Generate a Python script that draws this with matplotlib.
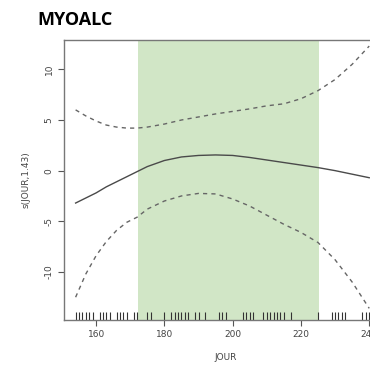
import numpy as np
import matplotlib
matplotlib.use("Agg")
import matplotlib.pyplot as plt
import matplotlib.transforms as mtransforms

# valeurs
jour = [154, 157, 160, 163, 166, 169, 172, 175, 180, 185, 190, 195,
        200, 205, 210, 215, 220, 225, 230, 235, 240]
lisse = [-3.2, -2.7, -2.2, -1.6, -1.1, -0.6, -0.1, 0.4, 1.0, 1.35, 1.5, 1.55,
         1.5, 1.3, 1.05, 0.8, 0.55, 0.3, 0.0, -0.35, -0.7]
borne_sup = [6.0, 5.4, 4.9, 4.5, 4.3, 4.2, 4.2, 4.3, 4.6, 5.0, 5.3, 5.6,
             5.85, 6.1, 6.4, 6.6, 7.1, 7.9, 9.0, 10.5, 12.3]
borne_inf = [-12.5, -10.2, -8.4, -7.0, -5.9, -5.1, -4.6, -3.8, -3.0, -2.5, -2.25, -2.3,
             -2.8, -3.5, -4.4, -5.3, -6.1, -7.1, -8.8, -11.0, -13.6]

# observations (rug)
rug_jours = [154, 155, 156, 157, 158, 159, 161, 162, 163, 164, 166, 167, 168, 169, 171, 172,
             175, 176, 180, 182, 183, 184, 185, 186, 187, 189, 190, 192,
             196, 197, 198, 203, 204, 205, 206,
             209, 210, 211, 212, 213, 214, 215, 217, 225,
             229, 230, 231, 232, 233, 238, 239, 240]

periode = (172.2, 225.2)
xticks = [160, 180, 200, 220, 240]
yticks = [-10, -5, 0, 5, 10]

fig = plt.figure(figsize=(3.7, 3.65), dpi=100)
ax = fig.add_axes([64 / 370, 45 / 365, 324 / 370, 280 / 365])

ax.axvspan(periode[0], periode[1], color="#d1e6c6", lw=0, zorder=0)

ax.plot(jour, lisse, color="#4a4a4a", lw=1.0)
ax.plot(jour, borne_sup, color="#666666", lw=1.0, dashes=(3, 3))
ax.plot(jour, borne_inf, color="#666666", lw=1.0, dashes=(3, 3))

trans = mtransforms.blended_transform_factory(ax.transData, ax.transAxes)
ax.vlines(rug_jours, 0, 0.03, transform=trans, color="#333333", lw=0.8)

ax.set_xlim(150.6, 245.5)
ax.set_ylim(-14.75, 12.9)
ax.set_xticks(xticks)
ax.set_yticks(yticks)
ax.set_yticklabels([str(v) for v in yticks], rotation=90, va="center")
ax.tick_params(labelsize=6.5, labelcolor="#444444", color="#555555", length=4, width=0.8)

for s in ax.spines.values():
    s.set_color("#777777")
    s.set_linewidth(1.0)

ax.set_xlabel("JOUR", fontsize=6.5, color="#444444", labelpad=10)
ax.set_ylabel("s(JOUR,1.43)", fontsize=6.5, color="#444444", labelpad=10)

fig.text(37 / 370, 1 - 20 / 365, "MYOALC", fontsize=13, fontweight="bold",
         family="Open Sans", va="center", ha="left")

fig.savefig("out.png", dpi=100)
